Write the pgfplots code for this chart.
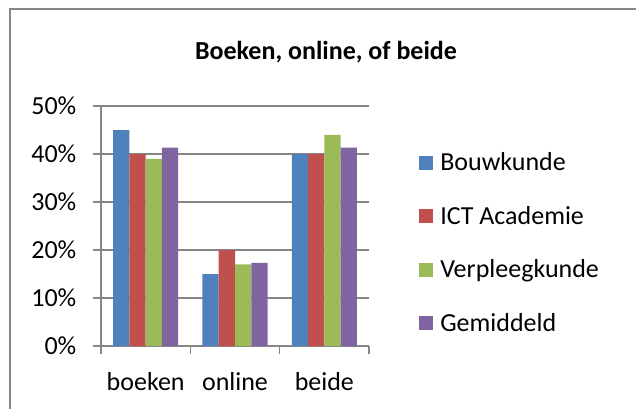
\documentclass[border=0pt]{standalone}
\usepackage{pgfplots}
\pgfplotsset{compat=1.18}
\usepackage{fontspec}
\setmainfont{Carlito}
\definecolor{c1}{HTML}{4F81BD}
\definecolor{c2}{HTML}{C0504D}
\definecolor{c3}{HTML}{9BBB59}
\definecolor{c4}{HTML}{8064A2}
\definecolor{gridc}{HTML}{868686}
\begin{document}
\begin{tikzpicture}[x=0.75pt,y=0.75pt]
\useasboundingbox (0,0) rectangle (636,408);
\draw[gridc, line width=1.5pt] (10,-10) -- (10,399) -- (650,399);
\node[anchor=base, font=\fontsize{19.5}{23}\selectfont\bfseries] at (326,349) {Boeken, online, of beide};
\coordinate (orig) at (101,62);
\begin{axis}[
  at={(orig)}, anchor=south west, scale only axis,
  width=201pt, height=180pt,
  ybar=0pt, bar width=12.19pt,
  xmin=-0.5, xmax=2.5, ymin=0, ymax=50,
  axis x line*=bottom, axis y line*=left,
  axis line style={gridc, line width=1.2pt, -},
  tick align=outside,
  tick style={gridc, line width=1.2pt},
  major tick length=6pt, minor tick length=6pt,
  xtick={0,1,2}, xticklabels={boeken,online,beide},
  minor xtick={-0.5,0.5,1.5,2.5},
  major x tick style={draw=none},
  ytick={0,10,20,30,40,50},
  yticklabels={0\%,10\%,20\%,30\%,40\%,50\%},
  ymajorgrids, major grid style={gridc, line width=1.2pt},
  ticklabel style={font=\fontsize{19.5}{22}\selectfont},
  xticklabel style={yshift=-10pt},
  yticklabel style={xshift=-9pt},
  legend style={at={(1.1866,0.429)}, anchor=west, draw=none, fill=none,
    inner sep=0pt, row sep=25pt, column sep=5.25pt,
    font=\fontsize{19.5}{22}\selectfont, nodes={inner sep=0pt}},
  legend cell align=left,
  legend image code/.code={\fill[#1] (0pt,-5.25pt) rectangle (10.5pt,5.25pt);},
]
\addplot[fill=c1, draw=none] coordinates {(0,45) (1,15) (2,40)};
\addplot[fill=c2, draw=none] coordinates {(0,40) (1,20) (2,40)};
\addplot[fill=c3, draw=none] coordinates {(0,39) (1,17) (2,44)};
\addplot[fill=c4, draw=none] coordinates {(0,41.33) (1,17.33) (2,41.33)};
\legend{Bouwkunde,ICT Academie,Verpleegkunde,Gemiddeld}
\end{axis}
\end{tikzpicture}
\end{document}
